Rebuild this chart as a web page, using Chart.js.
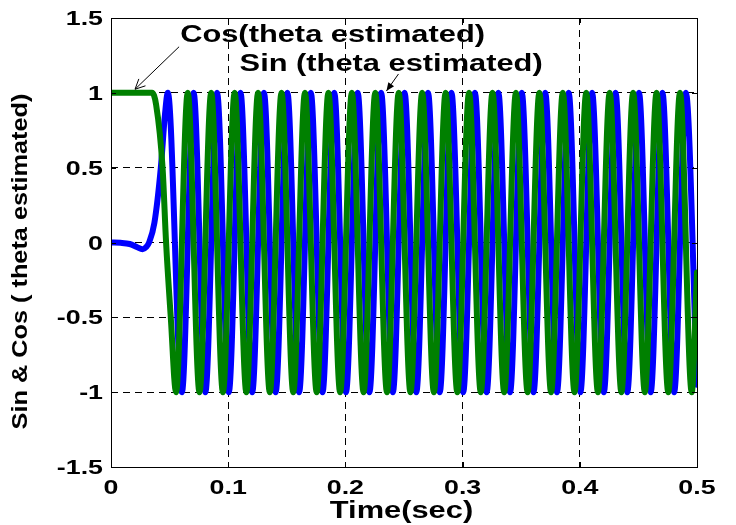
<!DOCTYPE html>
<html>
<head>
<meta charset="utf-8">
<title>Sin &amp; Cos (theta estimated)</title>
<script src="https://cdn.jsdelivr.net/npm/chart.js@4.4.0/dist/chart.umd.min.js"></script>
<style>
  html, body { margin: 0; padding: 0; background: #fff; }
  #chart { display: block; }
</style>
</head>
<body>
<canvas id="chart" width="736" height="525"></canvas>
<script>
// cos(theta estimated), green trace - start-up then peaks/troughs
const cosTime = [
    0, 0.035, 0.0385, 0.044, 0.047, 0.051,
    0.0555, 0.0655, 0.0755, 0.0855, 0.0955, 0.1055, 0.1155, 0.1255, 0.1355, 0.1455,
    0.1555, 0.1655, 0.1755, 0.1855, 0.1955, 0.2055, 0.2155, 0.2255, 0.2355, 0.2455,
    0.2555, 0.2655, 0.2755, 0.2855, 0.2955, 0.3055, 0.3155, 0.3255, 0.3355, 0.3455,
    0.3555, 0.3655, 0.3755, 0.3855, 0.3955, 0.4055, 0.4155, 0.4255, 0.4355, 0.4455,
    0.4555, 0.4655, 0.4755, 0.4855, 0.4955, 0.5
];
const cosValue = [
    1, 1, 0.92, 0.5, 0, -0.5,
    -1, 1, -1, 1, -1, 1, -1, 1, -1, 1,
    -1, 1, -1, 1, -1, 1, -1, 1, -1, 1,
    -1, 1, -1, 1, -1, 1, -1, 1, -1, 1,
    -1, 1, -1, 1, -1, 1, -1, 1, -1, 1,
    -1, 1, -1, 1, -1, -0.2
];

// sin(theta estimated), blue trace
const sinTime = [
    0, 0.008, 0.016, 0.022, 0.027, 0.030, 0.0325, 0.037, 0.0425, 0.046, 0.0485,
    0.0605, 0.0705, 0.0805, 0.0905, 0.1005, 0.1105, 0.1205, 0.1305, 0.1405, 0.1505,
    0.1605, 0.1705, 0.1805, 0.1905, 0.2005, 0.2105, 0.2205, 0.2305, 0.2405, 0.2505,
    0.2605, 0.2705, 0.2805, 0.2905, 0.3005, 0.3105, 0.3205, 0.3305, 0.3405, 0.3505,
    0.3605, 0.3705, 0.3805, 0.3905, 0.4005, 0.4105, 0.4205, 0.4305, 0.4405, 0.4505,
    0.4605, 0.4705, 0.4805, 0.4905, 0.5
];
const sinValue = [
    0, -0.002, -0.01, -0.03, -0.045, -0.03, 0, 0.13, 0.5, 0.85, 1,
    -1, 1, -1, 1, -1, 1, -1, 1, -1, 1,
    -1, 1, -1, 1, -1, 1, -1, 1, -1, 1,
    -1, 1, -1, 1, -1, 1, -1, 1, -1, 1,
    -1, 1, -1, 1, -1, 1, -1, 1, -1, 1,
    -1, 1, -1, 1, -0.95
];

const xTickLabels = ['0', '0.1', '0.2', '0.3', '0.4', '0.5'];
const yTickLabels = ['-1.5', '-1', '-0.5', '0', '0.5', '1', '1.5'];

const xTitle = 'Time(sec)';
const yTitle = 'Sin & Cos ( theta estimated)';

// text callouts + arrows, in data units
const notes = [
    { text: 'Cos(theta estimated)', x: 0.059, y: 1.342 },
    { text: 'Sin (theta estimated)', x: 0.1097, y: 1.148 }
];
const arrows = [
    { from: [0.0581, 1.308], to: [0.0205, 1.024], head: 'open' },
    { from: [0.2453, 1.126], to: [0.235, 1.012], head: 'filled' }
];

const FONT = '"Liberation Sans", Arial, sans-serif';
const WIDE = 1.34; // the figure's lettering is set wide

function wideText(ctx, text, x, y, size, align, rot, wide) {
    ctx.save();
    ctx.translate(x, y);
    if (rot) ctx.rotate(rot);
    ctx.scale(wide || WIDE, 1);
    ctx.font = 'bold ' + size + 'px ' + FONT;
    ctx.textAlign = align;
    ctx.textBaseline = 'alphabetic';
    ctx.fillStyle = '#000';
    ctx.fillText(text, 0, 0);
    ctx.restore();
}

function drawArrow(ctx, x1, y1, x2, y2, head) {
    const ang = Math.atan2(y2 - y1, x2 - x1);
    ctx.save();
    ctx.strokeStyle = '#000';
    ctx.fillStyle = '#000';
    ctx.lineWidth = 1;
    ctx.beginPath();
    ctx.moveTo(x1, y1);
    ctx.lineTo(x2, y2);
    ctx.stroke();
    const len = head === 'open' ? 11 : 9;
    const spread = head === 'open' ? 0.45 : 0.4;
    const ax = x2 - len * Math.cos(ang - spread), ay = y2 - len * Math.sin(ang - spread);
    const bx = x2 - len * Math.cos(ang + spread), by = y2 - len * Math.sin(ang + spread);
    ctx.beginPath();
    if (head === 'open') {
        ctx.moveTo(ax, ay); ctx.lineTo(x2, y2); ctx.lineTo(bx, by);
        ctx.stroke();
    } else {
        ctx.moveTo(ax, ay); ctx.lineTo(x2, y2); ctx.lineTo(bx, by); ctx.closePath();
        ctx.fill();
    }
    ctx.restore();
}

const matlabFrame = {
    id: 'matlabFrame',
    afterDraw(chart) {
        const { ctx, chartArea: a, scales: { x, y } } = chart;
        ctx.save();
        // box + inward ticks
        ctx.strokeStyle = '#000';
        ctx.lineWidth = 1;
        ctx.strokeRect(Math.round(a.left) + 0.5, Math.round(a.top) + 0.5,
            Math.round(a.right - a.left), Math.round(a.bottom - a.top));
        ctx.beginPath();
        x.ticks.forEach((t) => {
            const px = Math.round(x.getPixelForValue(t.value)) + 0.5;
            ctx.moveTo(px, a.bottom); ctx.lineTo(px, a.bottom - 5);
            ctx.moveTo(px, a.top); ctx.lineTo(px, a.top + 5);
        });
        y.ticks.forEach((t) => {
            const py = Math.round(y.getPixelForValue(t.value)) + 0.5;
            ctx.moveTo(a.left, py); ctx.lineTo(a.left + 5, py);
            ctx.moveTo(a.right, py); ctx.lineTo(a.right - 5, py);
        });
        ctx.stroke();
        ctx.restore();

        // tick labels
        x.ticks.forEach((t, i) => {
            wideText(ctx, xTickLabels[i], x.getPixelForValue(t.value), a.bottom + 27, 20, 'center');
        });
        y.ticks.forEach((t, i) => {
            wideText(ctx, yTickLabels[i], a.left - 8, y.getPixelForValue(t.value) + 7, 20, 'right');
        });

        // axis titles
        wideText(ctx, xTitle, (a.left + a.right) / 2 - 2.5, a.bottom + 51, 23, 'center');
        wideText(ctx, yTitle, 27, (a.top + a.bottom) / 2 + 19, 22, 'center', -Math.PI / 2, 1.15);

        // callouts
        notes.forEach((n) => {
            wideText(ctx, n.text, x.getPixelForValue(n.x), y.getPixelForValue(n.y), 23, 'left');
        });
        arrows.forEach((ar) => {
            drawArrow(ctx,
                x.getPixelForValue(ar.from[0]), y.getPixelForValue(ar.from[1]),
                x.getPixelForValue(ar.to[0]), y.getPixelForValue(ar.to[1]), ar.head);
        });
    }
};

function pts(ts, vs) { return ts.map((t, i) => ({ x: t, y: vs[i] })); }

const gridOpts = { color: '#000', lineWidth: 1, drawTicks: false };
const borderOpts = { display: false, dash: [7, 5] };

new Chart(document.getElementById('chart').getContext('2d'), {
    type: 'line',
    data: {
        datasets: [{
            label: 'Cos(theta estimated)',
            data: pts(cosTime, cosValue),
            borderColor: '#008000',
            borderWidth: 6,
            cubicInterpolationMode: 'monotone',
            borderCapStyle: 'round',
            borderJoinStyle: 'round',
            pointRadius: 0,
            fill: false
        }, {
            label: 'Sin (theta estimated)',
            data: pts(sinTime, sinValue),
            borderColor: '#0000ff',
            borderWidth: 6,
            cubicInterpolationMode: 'monotone',
            borderCapStyle: 'round',
            borderJoinStyle: 'round',
            pointRadius: 0,
            fill: false
        }]
    },
    options: {
        responsive: false,
        animation: false,
        events: [],
        layout: { padding: { left: 0, top: 18, right: 39, bottom: 0 } },
        plugins: { legend: { display: false }, tooltip: { enabled: false } },
        scales: {
            x: {
                type: 'linear',
                min: 0,
                max: 0.5,
                ticks: { display: false, stepSize: 0.1 },
                grid: gridOpts,
                border: borderOpts,
                afterFit: (s) => { s.height = 58; }
            },
            y: {
                min: -1.5,
                max: 1.5,
                ticks: { display: false, stepSize: 0.5 },
                grid: gridOpts,
                border: borderOpts,
                afterFit: (s) => { s.width = 111; }
            }
        }
    },
    plugins: [matlabFrame]
});
</script>
</body>
</html>
